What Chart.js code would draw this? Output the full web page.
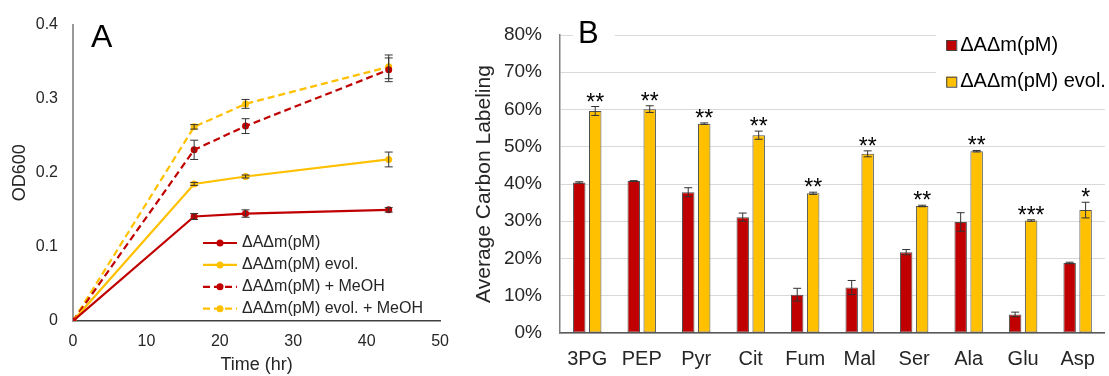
<!DOCTYPE html>
<html>
<head>
<meta charset="utf-8">
<script src="https://cdn.jsdelivr.net/npm/chart.js@4.4.0/dist/chart.umd.min.js"></script>
<style>
  html, body { margin: 0; padding: 0; background: #fff; }
  #wrap { position: relative; width: 1109px; height: 376px; }
  #growth { position: absolute; left: 0; top: 0; }
  #labeling { position: absolute; left: 460px; top: 0; }
</style>
</head>
<body>
<div id="wrap">
  <canvas id="growth" width="460" height="376"></canvas>
  <canvas id="labeling" width="649" height="376"></canvas>
</div>
<script>
// growth curves (panel A)
var timeHr = [0, 16.5, 23.5, 43];
var odBase = [0, 0.141, 0.145, 0.150];
var odBaseErr = [0, 0.004, 0.005, 0.003];
var odEvol = [0, 0.185, 0.195, 0.218];
var odEvolErr = [0, 0.002, 0.002, 0.010];
var odBaseMeOH = [0, 0.231, 0.263, 0.339];
var odBaseMeOHErr = [0, 0.013, 0.010, 0.016];
var odEvolMeOH = [0, 0.262, 0.293, 0.343];
var odEvolMeOHErr = [0, 0.003, 0.006, 0.016];

// carbon labeling (panel B), in percent
var metabolites = ['3PG', 'PEP', 'Pyr', 'Cit', 'Fum', 'Mal', 'Ser', 'Ala', 'Glu', 'Asp'];
var labelBase = [40.4, 40.8, 37.8, 31.1, 10.3, 12.2, 21.7, 29.8, 5.0, 18.8];
var labelBaseErr = [0.2, 0.1, 1.2, 1.1, 1.7, 1.9, 0.7, 2.5, 0.6, 0.2];
var labelEvol = [59.6, 60.1, 56.2, 53.1, 37.5, 48.1, 34.1, 48.8, 30.2, 33.0];
var labelEvolErr = [1.2, 0.9, 0.2, 1.1, 0.3, 0.8, 0.2, 0.2, 0.2, 2.1];
var signif = ['**', '**', '**', '**', '**', '**', '**', '**', '***', '*'];

var RED = '#C00000';
var YELLOW = '#FFC000';
var FONT = "'Liberation Sans', Arial, sans-serif";

Chart.defaults.font.family = FONT;
Chart.defaults.color = '#262626';

function valueOf(d) {
    return (d !== null && typeof d === 'object') ? d.y : d;
}

// vertical error bars with caps, from dataset.errors
var errorBars = {
    id: 'errorBars',
    afterDatasetsDraw: function (chart) {
        var ctx = chart.ctx;
        var yScale = chart.scales.y;
        chart.data.datasets.forEach(function (ds, di) {
            if (!ds.errors) return;
            var meta = chart.getDatasetMeta(di);
            ctx.save();
            ctx.strokeStyle = '#333';
            ctx.lineWidth = 1;
            meta.data.forEach(function (el, i) {
                var err = ds.errors[i];
                if (!err) return;
                var v = valueOf(ds.data[i]);
                var top = yScale.getPixelForValue(v + err);
                var bot = yScale.getPixelForValue(v - err);
                ctx.beginPath();
                ctx.moveTo(el.x, top); ctx.lineTo(el.x, bot);
                ctx.moveTo(el.x - 4, top); ctx.lineTo(el.x + 4, top);
                ctx.moveTo(el.x - 4, bot); ctx.lineTo(el.x + 4, bot);
                ctx.stroke();
            });
            ctx.restore();
        });
    }
};

// asterisks above the bars of datasets that carry "stars"
var significance = {
    id: 'significance',
    afterDatasetsDraw: function (chart) {
        var ctx = chart.ctx;
        var yScale = chart.scales.y;
        chart.data.datasets.forEach(function (ds, di) {
            if (!ds.stars) return;
            var meta = chart.getDatasetMeta(di);
            ctx.save();
            ctx.fillStyle = '#000';
            ctx.font = '23px ' + FONT;
            ctx.textAlign = 'center';
            ctx.textBaseline = 'alphabetic';
            meta.data.forEach(function (el, i) {
                var top = yScale.getPixelForValue(ds.data[i] + (ds.errors ? ds.errors[i] : 0));
                ctx.fillText(ds.stars[i], el.x, top + 3);
            });
            ctx.restore();
        });
    }
};

// big panel letter, optionally knocking out the gridline behind it
var panelLetter = {
    id: 'panelLetter',
    afterDraw: function (chart, args, opts) {
        var ctx = chart.ctx;
        var a = chart.chartArea;
        ctx.save();
        if (opts.knockout) {
            ctx.fillStyle = '#fff';
            ctx.fillRect(a.left + opts.knockout[0], a.top - 20, opts.knockout[1], 40);
        }
        ctx.fillStyle = '#000';
        ctx.font = opts.size + 'px ' + FONT;
        ctx.textAlign = 'left';
        ctx.textBaseline = 'alphabetic';
        ctx.fillText(opts.text, a.left + opts.dx, a.top + opts.dy);
        ctx.restore();
    }
};

// line + marker legend placed inside the plot area
var lineLegend = {
    id: 'lineLegend',
    afterDraw: function (chart, args, opts) {
        var ctx = chart.ctx;
        var a = chart.chartArea;
        chart.data.datasets.forEach(function (ds, i) {
            var y = a.bottom + opts.top + i * opts.rowGap;
            var x0 = a.left + opts.left;
            ctx.save();
            ctx.strokeStyle = ds.borderColor;
            ctx.lineWidth = ds.borderWidth;
            ctx.setLineDash(ds.borderDash || []);
            ctx.beginPath();
            ctx.moveTo(x0, y);
            ctx.lineTo(x0 + opts.sample, y);
            ctx.stroke();
            ctx.setLineDash([]);
            ctx.fillStyle = ds.pointBackgroundColor;
            ctx.beginPath();
            ctx.arc(x0 + opts.sample / 2, y, ds.pointRadius, 0, Math.PI * 2);
            ctx.fill();
            ctx.fillStyle = '#262626';
            ctx.font = '16px ' + FONT;
            ctx.textAlign = 'left';
            ctx.textBaseline = 'middle';
            ctx.fillText(ds.label, x0 + opts.sample + 5, y);
            ctx.restore();
        });
    }
};

// square-swatch legend at the top right, on a white patch
var boxLegend = {
    id: 'boxLegend',
    afterDraw: function (chart, args, opts) {
        var ctx = chart.ctx;
        var a = chart.chartArea;
        ctx.save();
        ctx.fillStyle = '#fff';
        ctx.fillRect(a.right + opts.left - 10, a.top - 8, chart.width, opts.rowGap * 2 - 6);
        chart.data.datasets.forEach(function (ds, i) {
            var y = a.top + opts.top + i * opts.rowGap;
            var x0 = a.right + opts.left;
            ctx.fillStyle = ds.backgroundColor;
            ctx.fillRect(x0, y - 5, 10, 10);
            ctx.strokeStyle = '#404040';
            ctx.lineWidth = 1;
            ctx.strokeRect(x0 + 0.5, y - 4.5, 10, 10);
            ctx.fillStyle = '#000';
            ctx.font = '20px ' + FONT;
            ctx.textAlign = 'left';
            ctx.textBaseline = 'middle';
            ctx.fillText(ds.label, x0 + 14, y);
        });
        ctx.restore();
    }
};

function growthSeries(label, values, errors, color, dash) {
    return {
        label: label,
        data: timeHr.map(function (t, i) { return { x: t, y: values[i] }; }),
        errors: errors,
        borderColor: color,
        backgroundColor: color,
        pointBackgroundColor: color,
        pointBorderColor: color,
        pointBorderWidth: 0,
        borderWidth: 2.2,
        borderDash: dash,
        pointRadius: 3.5,
        pointHoverRadius: 3.5,
        tension: 0,
        fill: false
    };
}

new Chart(document.getElementById('growth'), {
    type: 'line',
    data: {
        datasets: [
            growthSeries('ΔAΔm(pM)', odBase, odBaseErr, RED, []),
            growthSeries('ΔAΔm(pM) evol.', odEvol, odEvolErr, YELLOW, []),
            growthSeries('ΔAΔm(pM) + MeOH', odBaseMeOH, odBaseMeOHErr, RED, [7, 4]),
            growthSeries('ΔAΔm(pM) evol. + MeOH', odEvolMeOH, odEvolMeOHErr, YELLOW, [7, 4])
        ]
    },
    options: {
        responsive: false,
        animation: false,
        layout: { padding: { top: 20, right: 18, bottom: 0, left: 0 } },
        plugins: {
            legend: { display: false },
            tooltip: { enabled: false },
            lineLegend: { left: 130, top: -78, rowGap: 21.9, sample: 34 },
            panelLetter: { text: 'A', size: 32, dx: 18, dy: 22 }
        },
        scales: {
            x: {
                type: 'linear', min: 0, max: 50,
                ticks: { stepSize: 10, padding: 11, font: { size: 16 } },
                grid: { display: false, drawTicks: false },
                border: { color: '#404040', width: 1.5 },
                title: { display: true, text: 'Time (hr)', font: { size: 18 }, padding: 0 },
                afterFit: function (s) { s.height = 55; }
            },
            y: {
                min: 0, max: 0.4,
                ticks: { stepSize: 0.1, padding: 15, font: { size: 16 } },
                grid: { display: false, drawTicks: false },
                border: { color: '#999', width: 2 },
                title: { display: true, text: 'OD600', font: { size: 18 }, padding: { top: 9, bottom: 0 } },
                afterFit: function (s) { s.width = 73; }
            }
        }
    },
    plugins: [errorBars, lineLegend, panelLetter]
});

new Chart(document.getElementById('labeling'), {
    type: 'bar',
    data: {
        labels: metabolites,
        datasets: [{
            label: 'ΔAΔm(pM)',
            data: labelBase,
            errors: labelBaseErr,
            backgroundColor: RED,
            borderColor: '#505050',
            borderWidth: 1,
            borderSkipped: false,
            categoryPercentage: 0.586,
            barPercentage: 0.78
        }, {
            label: 'ΔAΔm(pM) evol.',
            data: labelEvol,
            errors: labelEvolErr,
            stars: signif,
            backgroundColor: YELLOW,
            borderColor: '#505050',
            borderWidth: 1,
            borderSkipped: false,
            categoryPercentage: 0.586,
            barPercentage: 0.78
        }]
    },
    options: {
        responsive: false,
        animation: false,
        layout: { padding: { top: 35, right: 3, bottom: 0, left: 0 } },
        plugins: {
            legend: { display: false },
            tooltip: { enabled: false },
            boxLegend: { left: -158.6, top: 10, rowGap: 36.7 },
            panelLetter: { text: 'B', size: 31, dx: 18, dy: 8, knockout: [13, 42] }
        },
        scales: {
            x: {
                grid: { display: false, drawTicks: false },
                border: { color: '#595959', width: 1.5 },
                ticks: { padding: 14, font: { size: 20 } },
                afterFit: function (s) { s.height = 43; }
            },
            y: {
                min: 0, max: 80,
                ticks: {
                    stepSize: 10, padding: 18, font: { size: 19 },
                    callback: function (v) { return v + '%'; }
                },
                grid: { color: '#d9d9d9', lineWidth: 1, drawTicks: false },
                border: { color: '#7f7f7f', width: 1.5 },
                title: { display: true, text: 'Average Carbon Labeling', font: { size: 21 }, padding: { top: 12, bottom: 0 } },
                afterFit: function (s) { s.width = 100; }
            }
        }
    },
    plugins: [errorBars, significance, boxLegend, panelLetter]
});
</script>
</body>
</html>
